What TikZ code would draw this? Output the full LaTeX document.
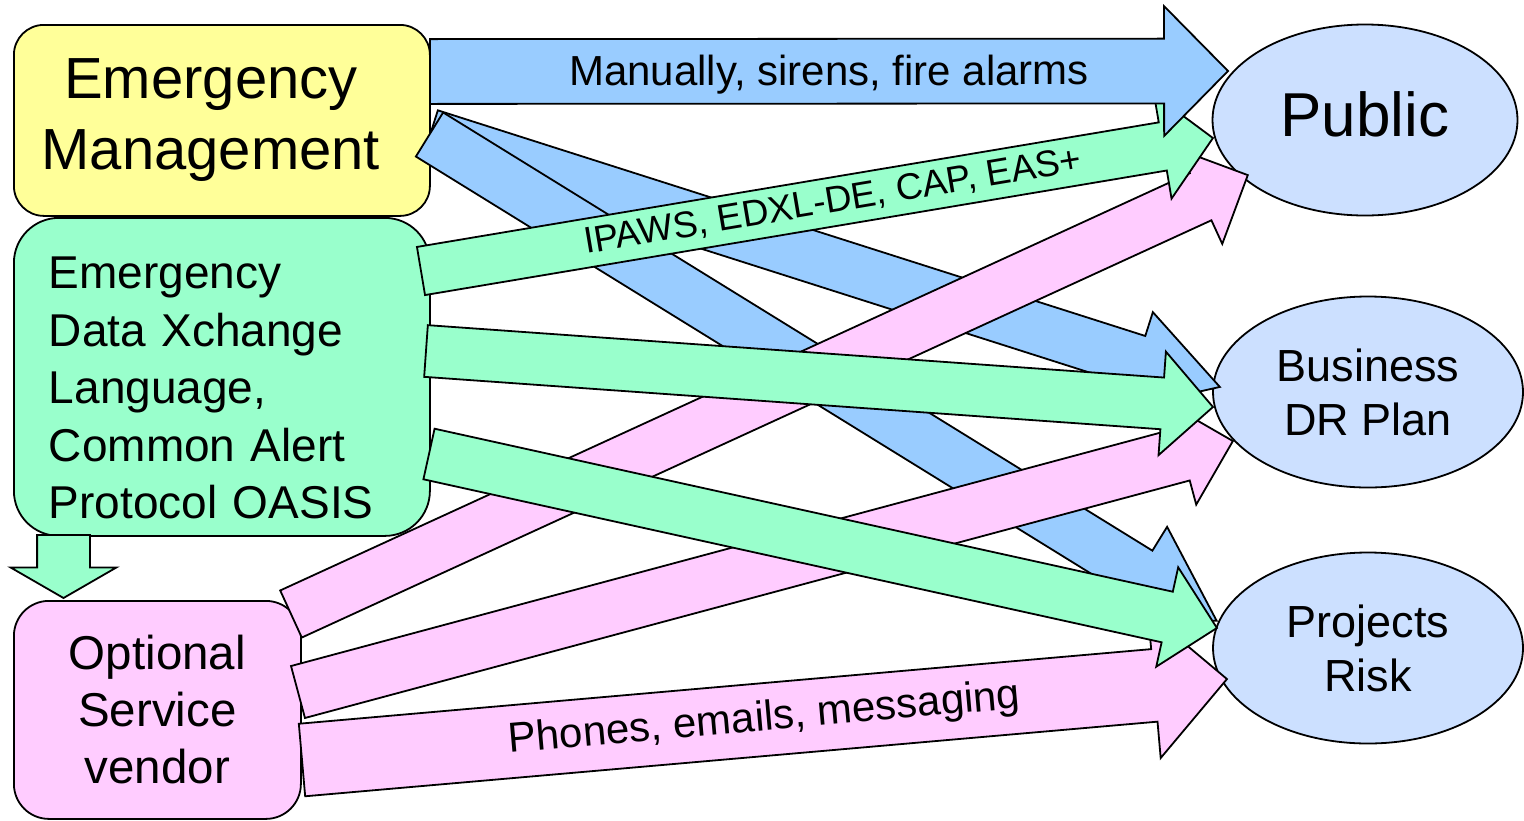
\documentclass[tikz,border=0pt]{standalone}
\usepackage{fontspec}
\setmainfont{Liberation Sans}
\usetikzlibrary{shapes.geometric,shapes.arrows,calc}

\begin{document}
\begin{tikzpicture}[x=1pt,y=-1pt,
  box/.style={draw,line width=1.8pt,rounded corners=#1,inner sep=0pt,
    anchor=north west},
  goal/.style={ellipse,draw,line width=1.8pt,fill=target,inner sep=0pt,
    minimum width=310pt,minimum height=191pt,align=center,
    font=\fontsize{45}{54}\selectfont},
  block/.style={single arrow,draw,line width=1.8pt,inner sep=0pt,
    outer sep=0pt,single arrow head indent=0pt,anchor=tail},
  tag/.style={sloped,inner sep=0pt,font=\fontsize{42}{50}\selectfont}]
 \definecolor{emyel}{RGB}{255,255,153}
 \definecolor{edxgreen}{RGB}{153,255,204}
 \definecolor{vendpink}{RGB}{255,204,255}
 \definecolor{alarm}{RGB}{153,204,255}
 \definecolor{target}{RGB}{204,224,255}
 \useasboundingbox (0,0) rectangle (1524,820);

 \node[box=30pt,fill=emyel,minimum width=416pt,minimum height=191pt,
   align=center,font=\fontsize{58}{71}\selectfont] (em) at (13,24)
   {Emergency\hspace*{22pt}\\Management\hspace*{22pt}};
 \node[box=45pt,fill=edxgreen,minimum width=416pt,minimum height=318pt,
   text width=346pt,align=left,font=\fontsize{46}{57.5}\selectfont]
   (edx) at (13,217)
   {\rule{0pt}{54pt}Emergency\\Data Xchange\\Language,\\Common Alert\\Protocol OASIS};
 \node[box=35pt,fill=vendpink,minimum width=287pt,minimum height=218pt,
   align=center,font=\fontsize{47.5}{57}\selectfont] (ven) at (13,600)
   {Optional\\Service\\vendor};

 \node[goal,minimum width=305pt,text depth=11pt,
   font=\fontsize{62}{70}\selectfont] (pub) at (1365,120) {Public};
 \node[goal] (biz) at (1368,392) {Business\\DR Plan};
 \node[goal] (prj) at (1368,648) {Projects\\Risk};

 \coordinate (em-u) at (430,71.5);   \coordinate (pub-m) at (1228,71);
 \coordinate (em-b) at (430,135);    \coordinate (biz-m) at (1220,387);
 \coordinate (em-p) at (429.5,134.5);\coordinate (prj-m) at (1217,621);
 \coordinate (edx-u) at (421,271);   \coordinate (pub-e) at (1213,138);
 \coordinate (edx-b) at (426,351);   \coordinate (biz-e) at (1213,407);
 \coordinate (edx-p) at (429,454);   \coordinate (prj-e) at (1217,628);
 \coordinate (edx-d) at (63.5,535);  \coordinate (ven-e) at (63.5,598);
 \coordinate (ven-u) at (291,614);   \coordinate (pub-v) at (1248,175);
 \coordinate (ven-b) at (298,692);   \coordinate (biz-v) at (1233,441);
 \coordinate (ven-p) at (302,760);   \coordinate (prj-v) at (1227,679);

 \foreach \from/\to/\col/\sw/\hw/\hl in {
   em-b/biz-m/alarm/25/50/85, em-p/prj-m/alarm/25/53/90,
   ven-u/pub-v/vendpink/25/51/51, ven-b/biz-v/vendpink/26/51/51,
   ven-p/prj-v/vendpink/35.5/72/72,
   edx-u/pub-e/edxgreen/23.5/52/50, edx-b/biz-e/edxgreen/25/51/50,
   edx-p/prj-e/edxgreen/25/50/50,
   em-u/pub-m/alarm/31.5/64/63, edx-d/ven-e/edxgreen/25.5/52/30
 } {
   \path let \p1=(\from), \p2=(\to),
     \n1={atan2(\y2-\y1,\x2-\x1)}, \n2={veclen(\x2-\x1,\y2-\y1)} in
     (\p1) node[block,fill=\col,rotate=\n1,minimum height=\n2,
       text height=\sw pt,text depth=\sw pt,
       minimum width=2*\hw,single arrow head extend=\hw-\sw,
       single arrow tip angle={2*atan(\hw/\hl)}] {};
 }

 \path (em-u) -- (pub-m) node[tag,pos=.5,yshift=-3pt]
   {Manually, sirens, fire alarms};
 \path (edx-u) -- (pub-e) node[tag,pos=.52,font=\fontsize{37}{44}\selectfont]
   {IPAWS, EDXL-DE, CAP, EAS+};
 \path (ven-p) -- (prj-v) node[tag,pos=.5] {Phones, emails, messaging};
\end{tikzpicture}
\end{document}
